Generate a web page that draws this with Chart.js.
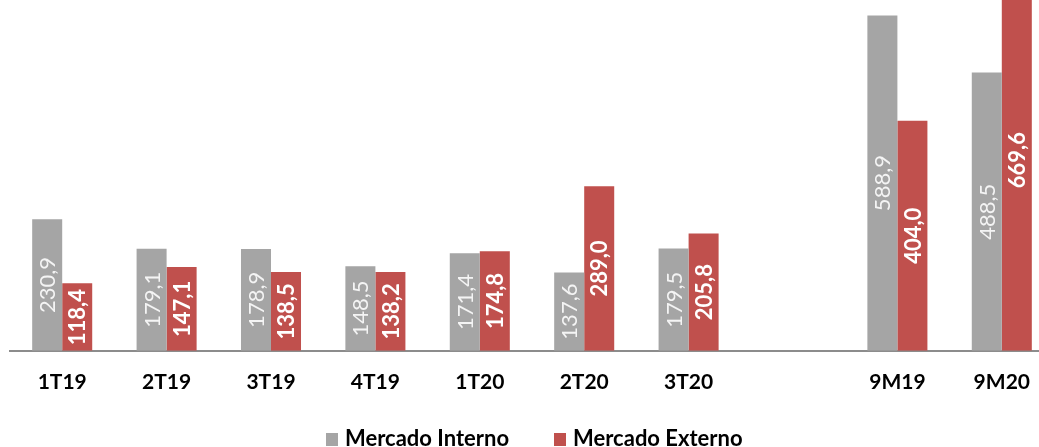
<!DOCTYPE html>
<html>
<head>
<meta charset="utf-8">
<script src="https://cdn.jsdelivr.net/npm/chart.js@4.4.1/dist/chart.umd.min.js"></script>
<style>
  html, body { margin: 0; padding: 0; background: #fff; overflow: hidden; }
  #wrap { position: relative; width: 1039px; height: 447px; overflow: hidden; }
  #chart { display: block; }
  #legend {
    position: absolute; left: 326px; top: 426px;
    font: bold 22px Lato, sans-serif; color: #000; white-space: nowrap;
    line-height: 24px;
  }
  #legend span.item { display: inline-block; margin-right: 45px; }
  #legend span.box { display: inline-block; width: 12px; height: 13px; margin-right: 7px; vertical-align: 0px; }
</style>
</head>
<body>
<div id="wrap">
  <canvas id="chart" width="1054" height="447"></canvas>
  <div id="legend"></div>
</div>
<script>
// categories (empty slot = gap between quarters and 9M totals)
const categories = ['1T19', '2T19', '3T19', '4T19', '1T20', '2T20', '3T20', '', '9M19', '9M20'];
const interno = [230.9, 179.1, 178.9, 148.5, 171.4, 137.6, 179.5, null, 588.9, 488.5];
const externo = [118.4, 147.1, 138.5, 138.2, 174.8, 289.0, 205.8, null, 404.0, 669.6];
const seriesNames = ['Mercado Interno', 'Mercado Externo'];
const colors = ['#a5a5a5', '#c0504d'];

const fmt = v => v.toFixed(1).replace('.', ',');

// draws the values rotated inside each bar
const barLabels = {
  id: 'barLabels',
  afterDatasetsDraw(chart) {
    const ctx = chart.ctx;
    chart.data.datasets.forEach((ds, i) => {
      const meta = chart.getDatasetMeta(i);
      meta.data.forEach((bar, j) => {
        const v = ds.data[j];
        if (v == null) return;
        const cy = (bar.y + bar.base) / 2;
        ctx.save();
        ctx.translate(bar.x, cy);
        ctx.rotate(-Math.PI / 2);
        ctx.font = (i === 0 ? 'normal ' : 'bold ') + '22px Lato, sans-serif';
        ctx.fillStyle = i === 0 ? '#f4f4f4' : '#ffffff';
        ctx.textAlign = 'center';
        ctx.textBaseline = 'middle';
        ctx.fillText(fmt(v), 0, 1);
        ctx.restore();
      });
    });
  }
};

const chart = new Chart(document.getElementById('chart'), {
  type: 'bar',
  data: {
    labels: categories,
    datasets: [
      { label: seriesNames[0], data: interno, backgroundColor: colors[0] },
      { label: seriesNames[1], data: externo, backgroundColor: colors[1] }
    ]
  },
  options: {
    responsive: false,
    animation: false,
    devicePixelRatio: 1,
    layout: { padding: { left: 10, right: 0, top: 0, bottom: 33 } },
    datasets: { bar: { categoryPercentage: 0.575, barPercentage: 1 } },
    plugins: {
      legend: { display: false },
      tooltip: { enabled: false }
    },
    scales: {
      x: {
        grid: { display: false, drawTicks: false },
        border: { display: true, color: '#8c8c8c', width: 2 },
        ticks: { color: '#000', padding: 19, font: { family: 'Lato', size: 21, weight: 'bold' } }
      },
      y: {
        display: false,
        min: 0,
        max: 616
      }
    }
  },
  plugins: [barLabels]
});

// legend as html
const legendEl = document.getElementById('legend');
seriesNames.forEach((name, i) => {
  const item = document.createElement('span');
  item.className = 'item';
  const box = document.createElement('span');
  box.className = 'box';
  box.style.background = colors[i];
  item.appendChild(box);
  item.appendChild(document.createTextNode(name));
  legendEl.appendChild(item);
});
</script>
</body>
</html>
